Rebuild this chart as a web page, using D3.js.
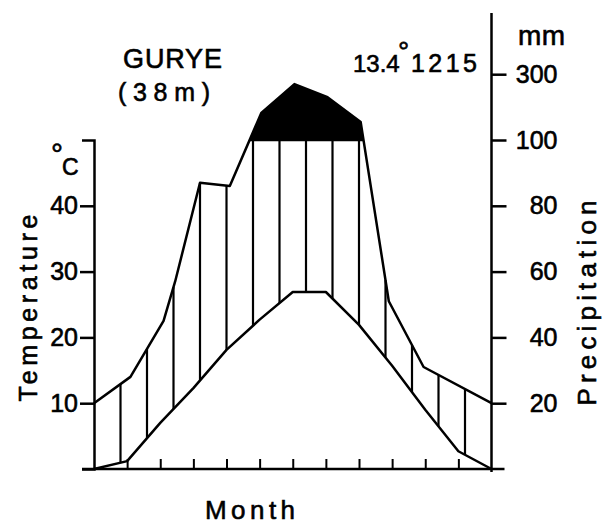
<!DOCTYPE html>
<html>
<head>
<meta charset="utf-8">
<script src="https://cdn.jsdelivr.net/npm/d3@7"></script>
<style>
  html, body { margin: 0; padding: 0; background: #fff; }
  svg { display: block; }
  text { font-family: "Liberation Sans", Arial, sans-serif; fill: #000; stroke: #000; stroke-width: 0.6px; }
</style>
</head>
<body>
<svg id="chart" width="602" height="524"></svg>
<script>
// ---- data ----
const station = "GURYE";
const elevation = "(38m)";
const meanTemp = "13.4";
const annualPrecip = "1215";
const tempMonth = [0, 1, 2, 3, 4, 5, 6, 7, 8, 9, 10, 11, 12];
const tempValue = [0, 1.2, 7.0, 12.3, 18.1, 22.7, 26.9, 26.9, 21.9, 15.7, 9.0, 2.7, 0];
const precipMonth = [0, 1.1, 2.1, 2.45, 3.2, 4.1, 5.05, 6.05, 7.05, 8.05, 8.9, 9.95, 12];
const precipValue = [20, 28, 45, 57, 87, 86, 182, 270, 230, 155, 51, 31, 20];
const tempTicks = [10, 20, 30, 40];
const precipTicks = [20, 40, 60, 80, 100, 300];
const monthTicks = [1, 2, 3, 4, 5, 6, 7, 8, 9, 10, 11];
const hatchCount = 15;

const svg = d3.select("#chart");
const x = d3.scaleLinear().domain([0, 12]).range([94, 491.5]);
const yT = d3.scaleLinear().domain([0, 50]).range([469, 140]);
const yP = d3.scaleLinear().domain([0, 100, 300])
  .range([yT(0), yT(50), yT(50) - (yT(40) - yT(50))]);

const tempPts = tempMonth.map((m, i) => [m, tempValue[i]]);
const precPts = precipMonth.map((m, i) => [m, precipValue[i]]);
// curve position (pixels) at any month, following the drawn polylines
const tempYAt = d3.scaleLinear().domain(tempMonth).range(tempValue.map(v => yT(v)));
const precYAt = d3.scaleLinear().domain(precipMonth).range(precipValue.map(v => yP(v)));

// clip: region under the precipitation curve
const clip = svg.append("clipPath").attr("id", "underPrecip");
clip.append("path").datum(precPts)
  .attr("d", d3.area().x(d => x(d[0])).y0(yT(0)).y1(d => yP(d[1])));

// black humid region (> 100 mm)
svg.append("rect")
  .attr("clip-path", "url(#underPrecip)")
  .attr("x", x(0)).attr("y", 0)
  .attr("width", x(12) - x(0)).attr("height", yP(100))
  .attr("fill", "#000");
// 100 mm line bounding the black region
svg.append("line")
  .attr("clip-path", "url(#underPrecip)")
  .attr("x1", x(0)).attr("x2", x(12)).attr("y1", yP(100)).attr("y2", yP(100))
  .attr("stroke", "#000").attr("stroke-width", 2.5);

// vertical hatching between curves
const hatch = d3.range(1, hatchCount).map(k => k * 12 / hatchCount);
svg.append("g").selectAll("line").data(hatch).join("line")
  .attr("x1", d => x(d)).attr("x2", d => x(d))
  .attr("y1", d => tempYAt(d))
  .attr("y2", d => Math.max(precYAt(d), yP(100)))
  .attr("stroke", "#000").attr("stroke-width", 2.2);

// curves
svg.append("path").datum(precPts)
  .attr("fill", "none").attr("stroke", "#000").attr("stroke-width", 2.5)
  .attr("stroke-linejoin", "round")
  .attr("d", d3.line().x(d => x(d[0])).y(d => yP(d[1])));
svg.append("path").datum(tempPts)
  .attr("fill", "none").attr("stroke", "#000").attr("stroke-width", 2.5)
  .attr("stroke-linejoin", "round")
  .attr("d", d3.line().x(d => x(d[0])).y(d => yT(d[1])));

// x baseline and month ticks
svg.append("line").attr("x1", x(0) - 12).attr("x2", x(12) + 13)
  .attr("y1", yT(0)).attr("y2", yT(0))
  .attr("stroke", "#000").attr("stroke-width", 2.5);
const gx = svg.append("g").attr("transform", `translate(0,${yT(0)})`)
  .call(d3.axisBottom(x).tickValues(monthTicks).tickSize(-10).tickFormat(""));
gx.select(".domain").remove();
gx.selectAll(".tick line").attr("stroke", "#000").attr("stroke-width", 2);

// left axis (temperature)
const gl = svg.append("g").attr("transform", `translate(${x(0)},0)`)
  .call(d3.axisLeft(yT).tickValues(tempTicks).tickSizeInner(14).tickSizeOuter(12).tickPadding(2));
gl.select(".domain").attr("stroke", "#000").attr("stroke-width", 2.5).attr("fill", "none");
gl.selectAll(".tick line").attr("stroke", "#000").attr("stroke-width", 2.5);
gl.selectAll(".tick text").style("font-size", "25px").style("font-family", "Liberation Sans");

// right axis (precipitation)
svg.append("line").attr("x1", x(12)).attr("x2", x(12))
  .attr("y1", 13).attr("y2", yT(0) + 3)
  .attr("stroke", "#000").attr("stroke-width", 2.5);
const gr = svg.append("g").attr("transform", `translate(${x(12)},0)`)
  .call(d3.axisRight(yP).tickValues(precipTicks).tickSize(15).tickPadding(2));
gr.select(".domain").remove();
gr.selectAll(".tick line").attr("stroke", "#000").attr("stroke-width", 2.5);
gr.selectAll(".tick text").attr("x", 66).attr("text-anchor", "end")
  .style("font-size", "25px").style("font-family", "Liberation Sans");

// titles and labels
svg.append("text").attr("x", 123).attr("y", 68).style("font-size", "27px")
  .attr("textLength", 99).attr("lengthAdjust", "spacing").text(station);
svg.append("text").attr("x", 118).attr("y", 101).style("font-size", "25px")
  .attr("textLength", 92).attr("lengthAdjust", "spacing").text(elevation);
svg.append("text").attr("x", 353).attr("y", 72).style("font-size", "24px")
  .text(meanTemp);
svg.append("text").attr("x", 398).attr("y", 61).style("font-size", "28px").text("°");
svg.append("text").attr("x", 411).attr("y", 72).style("font-size", "25px")
  .attr("textLength", 66).attr("lengthAdjust", "spacing").text(annualPrecip);
svg.append("text").attr("x", 518).attr("y", 45).style("font-size", "28px")
  .attr("textLength", 47).attr("lengthAdjust", "spacing").text("mm");
svg.append("text").attr("x", 51).attr("y", 164).style("font-size", "30px").text("°");
svg.append("text").attr("x", 62).attr("y", 175).style("font-size", "23px").text("C");
svg.append("text").attr("transform", "translate(37,308) rotate(-90)")
  .attr("text-anchor", "middle").style("font-size", "25px")
  .attr("textLength", 187).attr("lengthAdjust", "spacing").text("Temperature");
svg.append("text").attr("transform", "translate(596,303) rotate(-90)")
  .attr("text-anchor", "middle").style("font-size", "26px")
  .attr("textLength", 205).attr("lengthAdjust", "spacing").text("Precipitation");
svg.append("text").attr("x", 250).attr("y", 519).attr("text-anchor", "middle")
  .style("font-size", "26px")
  .attr("textLength", 90).attr("lengthAdjust", "spacing").text("Month");
</script>
</body>
</html>
